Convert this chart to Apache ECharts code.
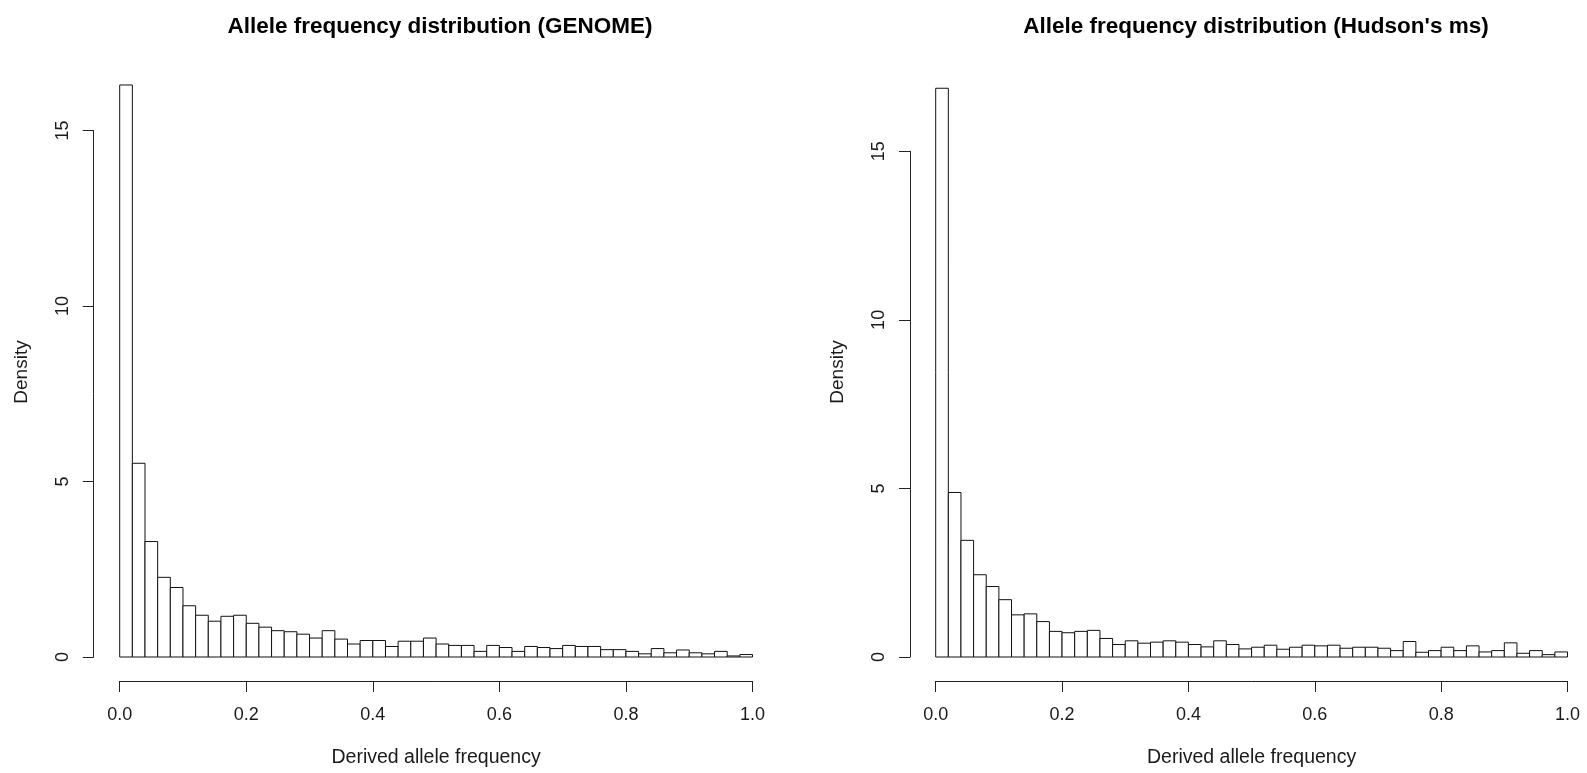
<!DOCTYPE html>
<html>
<head>
<meta charset="utf-8">
<script src="https://cdn.jsdelivr.net/npm/echarts@6/dist/echarts.min.js"></script>
<style>
  html, body { margin: 0; padding: 0; background: #ffffff; }
  #chart { width: 1587px; height: 773px; }
</style>
</head>
<body>
<div id="chart"></div>
<script>
// Histogram bins: 50 bins of width 0.02 covering derived allele frequency 0..1
const binWidth = 0.02;

// Density per bin, GENOME simulation
const genomeDensity = [
  16.30, 5.52, 3.29, 2.27, 1.98, 1.46, 1.19, 1.02, 1.16, 1.19,
  0.96, 0.85, 0.75, 0.72, 0.65, 0.54, 0.75, 0.51, 0.37, 0.47,
  0.47, 0.30, 0.45, 0.45, 0.54, 0.37, 0.33, 0.33, 0.16, 0.33,
  0.27, 0.16, 0.30, 0.27, 0.24, 0.33, 0.30, 0.30, 0.21, 0.21,
  0.16, 0.09, 0.24, 0.12, 0.20, 0.12, 0.09, 0.16, 0.03, 0.07
];

// Density per bin, Hudson's ms simulation
const msDensity = [
  16.87, 4.88, 3.46, 2.44, 2.09, 1.70, 1.25, 1.28, 1.05, 0.76,
  0.72, 0.76, 0.79, 0.55, 0.37, 0.48, 0.41, 0.44, 0.48, 0.44,
  0.37, 0.30, 0.48, 0.37, 0.24, 0.29, 0.35, 0.23, 0.29, 0.35,
  0.33, 0.35, 0.26, 0.29, 0.29, 0.26, 0.19, 0.46, 0.14, 0.19,
  0.29, 0.19, 0.33, 0.15, 0.19, 0.42, 0.11, 0.19, 0.07, 0.15
];

const xTickLabels = ['0.0', '0.2', '0.4', '0.6', '0.8', '1.0'];
const yTickLabels = ['0', '5', '10', '15'];

const panelTitles = [
  'Allele frequency distribution (GENOME)',
  "Allele frequency distribution (Hudson's ms)"
];
const xTitle = 'Derived allele frequency';
const yTitle = 'Density';

const FONT = "'Liberation Sans', Arial, sans-serif";
const INK = '#1a1a1a';

// Plot panels (pixel placement of the 0..1 x range and 0..15 y range)
const panels = [
  { left: 119.7, top: 130.6, width: 632.8, height: 527.7, yOffset: 26, title: 435, yName: 22, yNameY: 372 },
  { left: 935.7, top: 151.3, width: 631.8, height: 507.0, yOffset: 25.7, title: 1251, yName: 838, yNameY: 372 }
];

const chart = echarts.init(document.getElementById('chart'), null, { renderer: 'canvas' });

function renderBin(params, api) {
  const start = api.value(0);
  const density = api.value(1);
  const topLeft = api.coord([start, density]);
  const bottomRight = api.coord([start + binWidth, 0]);
  return {
    type: 'rect',
    shape: {
      x: topLeft[0],
      y: topLeft[1],
      width: bottomRight[0] - topLeft[0],
      height: bottomRight[1] - topLeft[1]
    },
    style: { fill: '#ffffff', stroke: '#111111', lineWidth: 1 }
  };
}

const seriesData = [genomeDensity, msDensity].map(arr => arr.map((v, i) => [i * binWidth, v]));

const option = {
  backgroundColor: '#ffffff',
  animation: false,
  title: panels.map((p, k) => ({
    text: panelTitles[k],
    left: p.title,
    top: 10,
    textAlign: 'center',
    textStyle: { fontFamily: FONT, fontWeight: 'bold', fontSize: 22.5, color: '#000' }
  })),
  grid: panels.map(p => ({ left: p.left, top: p.top, width: p.width, height: p.height })),
  xAxis: panels.map((p, k) => ({
    type: 'value',
    gridIndex: k,
    min: 0,
    max: 1,
    interval: 0.2,
    offset: 24,
    name: xTitle,
    nameLocation: 'middle',
    nameGap: 67,
    nameTextStyle: { fontFamily: FONT, fontSize: 19.5, color: INK },
    axisLine: { show: true, onZero: false, lineStyle: { color: '#222', width: 1 } },
    axisTick: { show: true, length: 11, lineStyle: { color: '#222', width: 1 } },
    axisLabel: {
      fontFamily: FONT, fontSize: 18, color: INK, margin: 25,
      formatter: v => xTickLabels[Math.round(v / 0.2)]
    },
    splitLine: { show: false }
  })),
  yAxis: panels.map((p, k) => ({
    type: 'value',
    gridIndex: k,
    min: 0,
    max: 15,
    interval: 5,
    offset: p.yOffset,
    axisLine: { show: true, onZero: false, lineStyle: { color: '#222', width: 1 } },
    axisTick: { show: true, length: 11, lineStyle: { color: '#222', width: 1 } },
    axisLabel: {
      fontFamily: FONT, fontSize: 18, color: INK, margin: 22, rotate: 90,
      formatter: v => yTickLabels[Math.round(v / 5)]
    },
    splitLine: { show: false }
  })),
  graphic: panels.map(p => ({
    type: 'text',
    x: p.yName,
    y: p.yNameY,
    rotation: Math.PI / 2,
    style: {
      text: yTitle,
      fontFamily: FONT,
      fontSize: 19,
      fill: INK,
      align: 'center',
      verticalAlign: 'middle'
    }
  })),
  series: seriesData.map((data, k) => ({
    type: 'custom',
    xAxisIndex: k,
    yAxisIndex: k,
    clip: false,
    encode: { x: 0, y: 1 },
    renderItem: renderBin,
    data: data
  }))
};

chart.setOption(option);
</script>
</body>
</html>
